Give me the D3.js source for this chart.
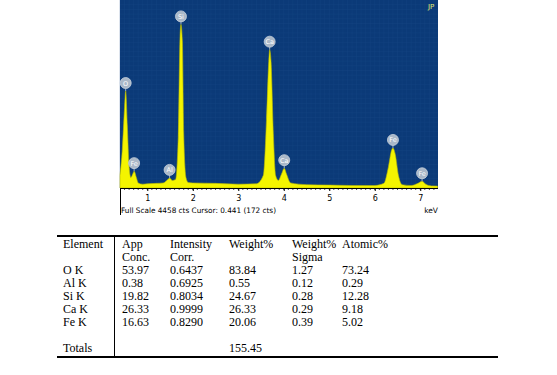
<!DOCTYPE html>
<html><head><meta charset="utf-8">
<script src="https://cdn.jsdelivr.net/npm/d3@7/dist/d3.min.js"></script>
<style>body{margin:0;background:#fff}svg{display:block}</style>
</head><body>
<script>
// Spectrum: energy (keV) and counts (full scale 4458)
const energy = [0.40,0.45,0.50,0.525,0.56,0.60,0.64,0.68,0.71,0.76,0.80,0.90,1.0,1.2,1.35,1.45,1.49,1.55,1.62,1.68,1.72,1.74,1.77,1.80,1.85,1.90,2.0,2.5,3.0,3.4,3.55,3.62,3.67,3.69,3.72,3.77,3.82,3.88,3.95,4.01,4.06,4.15,4.5,5.0,5.5,6.0,6.2,6.30,6.37,6.40,6.45,6.52,6.60,6.8,6.95,7.04,7.12,7.25,7.38];
const counts = [300,900,1900,2300,1500,500,250,330,400,250,120,90,100,110,120,200,240,180,200,1200,3600,3880,3500,1300,250,130,120,110,90,100,300,1600,3000,3280,3000,1300,300,180,330,470,330,120,80,70,60,60,110,500,900,950,800,300,80,60,110,160,90,50,45];
const peakNames = ["O","Fe","Al","Si","Ca","Ca","Fe","Fe"];
const peakKeV = [0.525,0.71,1.49,1.74,3.69,4.01,6.40,7.04];
const peakCounts = [2300,400,240,3880,3280,470,950,160];
const axisTicks = [1,2,3,4,5,6,7];
const fullScale = 4458;
const footerText = "Full Scale 4458 cts Cursor: 0.441  (172 cts)";

const tableHeader1 = ["Element","App","Intensity","Weight%","Weight%","Atomic%"];
const tableHeader2 = ["","Conc.","Corr.","","Sigma",""];
const elements = ["O K","Al K","Si K","Ca K","Fe K"];
const appConc = ["53.97","0.38","19.82","26.33","16.63"];
const intensityCorr = ["0.6437","0.6925","0.8034","0.9999","0.8290"];
const weightPct = ["83.84","0.55","24.67","26.33","20.06"];
const weightSigma = ["1.27","0.12","0.28","0.29","0.39"];
const atomicPct = ["73.24","0.29","12.28","9.18","5.02"];
const totalsLabel = "Totals";
const totalWeight = "155.45";

const W = 557, H = 375;
const svg = d3.select("body").append("svg").attr("width", W).attr("height", H);

// Spectrum panel
const pL = 120, pR = 438, pT = 0, pB = 188;
const x = d3.scaleLinear().domain([0.4, 7.39]).range([pL, pR]);
const y = d3.scaleLinear().domain([0, fullScale]).range([pB, pT]);

svg.append("rect").attr("x", pL).attr("y", pT).attr("width", pR - pL).attr("height", pB - pT).attr("fill", "#0b3a78");
const gridG = svg.append("g").attr("stroke", "#1a4a88").attr("stroke-width", 0.5).attr("opacity", 0.6);
gridG.selectAll("line.v").data(d3.range(0.4, 7.39, 0.1)).join("line")
  .attr("x1", d => x(d)).attr("x2", d => x(d)).attr("y1", pT).attr("y2", pB);
gridG.selectAll("line.h").data(d3.range(0, fullScale, fullScale / 40)).join("line")
  .attr("x1", pL).attr("x2", pR).attr("y1", d => y(d)).attr("y2", d => y(d));

const pts = energy.map((e, i) => [e, counts[i]]);
const area = d3.area().x(d => x(d[0])).y0(pB).y1(d => y(d[1])).curve(d3.curveMonotoneX);
svg.append("path").datum(pts).attr("d", area).attr("fill", "#f4f400").attr("stroke", "#b8b800").attr("stroke-width", 0.6);

const lab = svg.append("g");
peakNames.forEach((n, i) => {
  const cx = x(peakKeV[i]), py = y(peakCounts[i]);
  const cy = py - 8;
  lab.append("line").attr("x1", cx).attr("x2", cx).attr("y1", cy).attr("y2", py).attr("stroke", "#a0b0c0").attr("stroke-width", 1);
  lab.append("circle").attr("cx", cx).attr("cy", cy).attr("r", 5.5).attr("fill", "#aab8c8").attr("stroke", "#c8d2dc").attr("stroke-width", 0.8);
  lab.append("text").attr("x", cx).attr("y", cy + 2.5).attr("text-anchor", "middle")
    .attr("font-family", "DejaVu Sans").attr("font-size", 6.5).attr("fill", "#ffffff").text(n);
});
svg.append("text").attr("x", 428).attr("y", 9).attr("font-family", "DejaVu Sans").attr("font-size", 7)
  .attr("fill", "#e0f070").text("JP");

// Axis area
svg.append("line").attr("x1", pL).attr("x2", pR).attr("y1", pB + 0.5).attr("y2", pB + 0.5).attr("stroke", "#000");
svg.append("line").attr("x1", pL + 0.5).attr("x2", pL + 0.5).attr("y1", pB).attr("y2", 215).attr("stroke", "#000");
const axis = d3.axisBottom(x).tickValues(axisTicks).tickSize(3).tickFormat(d3.format("d"));
const ag = svg.append("g").attr("transform", `translate(0,${pB})`).call(axis);
ag.select(".domain").remove();
ag.selectAll("text").attr("font-family", "DejaVu Sans").attr("font-size", 8).attr("dy", "0.9em");
svg.append("g").selectAll("line").data(d3.range(0.5, 7.39, 0.1)).join("line")
  .attr("x1", d => x(d)).attr("x2", d => x(d)).attr("y1", pB).attr("y2", pB + 2).attr("stroke", "#000").attr("stroke-width", 0.7);
svg.append("text").attr("x", pL + 1).attr("y", 213).attr("font-family", "DejaVu Sans").attr("font-size", 7.5)
  .attr("textLength", 155).attr("lengthAdjust", "spacingAndGlyphs").text(footerText);
svg.append("text").attr("x", pR).attr("y", 213).attr("text-anchor", "end").attr("font-family", "DejaVu Sans").attr("font-size", 7.5).text("keV");

// Table
const tL = 57, tR = 498, tTop = 236, tBot = 357, vX = 114.5;
svg.append("line").attr("x1", tL).attr("x2", tR).attr("y1", tTop).attr("y2", tTop).attr("stroke", "#000").attr("stroke-width", 2);
svg.append("line").attr("x1", tL).attr("x2", tR).attr("y1", tBot).attr("y2", tBot).attr("stroke", "#000").attr("stroke-width", 2);
svg.append("line").attr("x1", vX).attr("x2", vX).attr("y1", tTop).attr("y2", tBot).attr("stroke", "#000").attr("stroke-width", 1);

const colX = [63, 122, 170, 229, 292, 342];
const rowY = [248, 261, 274, 287, 300, 313, 326];
const tg = svg.append("g").attr("font-family", "Liberation Serif").attr("font-size", 12).attr("fill", "#000");
function row(vals, yy) { vals.forEach((v, i) => { if (v) tg.append("text").attr("x", colX[i]).attr("y", yy).text(v); }); }
row(tableHeader1, rowY[0]);
row(tableHeader2, rowY[1]);
elements.forEach((e, i) => row([e, appConc[i], intensityCorr[i], weightPct[i], weightSigma[i], atomicPct[i]], rowY[2 + i]));
row([totalsLabel, "", "", totalWeight, "", ""], 352);
</script>
</body></html>
